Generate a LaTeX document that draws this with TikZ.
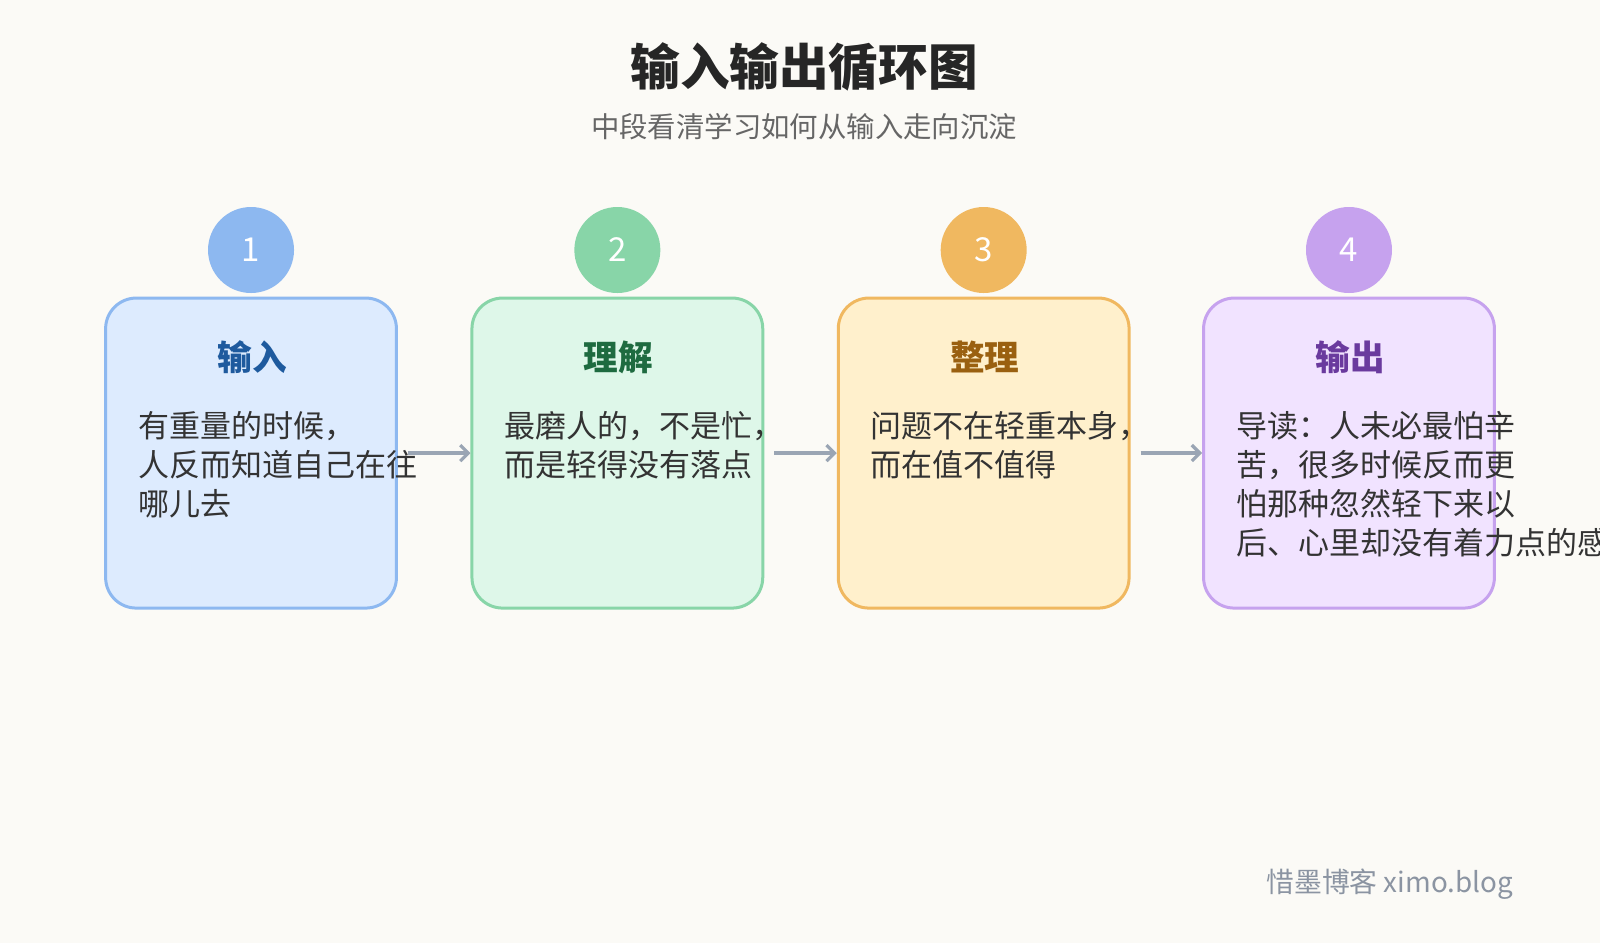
\documentclass[tikz,border=0pt]{standalone}
\usepackage{fontspec}
\setmainfont{Noto Sans CJK SC}
\usetikzlibrary{arrows.meta}
\definecolor{bg}{HTML}{FBFAF6}
\definecolor{fA}{HTML}{DDEBFE}\definecolor{dA}{HTML}{8DB8F0}\definecolor{hA}{HTML}{1E5A9E}
\definecolor{fB}{HTML}{DEF7E9}\definecolor{dB}{HTML}{88D5A8}\definecolor{hB}{HTML}{1E6B40}
\definecolor{fC}{HTML}{FFF0CC}\definecolor{dC}{HTML}{F0B860}\definecolor{hC}{HTML}{9A6010}
\definecolor{fD}{HTML}{F1E3FF}\definecolor{dD}{HTML}{C6A2EE}\definecolor{hD}{HTML}{6A3A9E}
\definecolor{arr}{HTML}{9AA5B4}
\tikzset{x=0.5102pt,y=-0.5102pt,
 card/.style={draw,line width=1.5pt,rounded corners=15.3pt,minimum width=145.4pt,minimum height=155pt,inner sep=0pt},
 num/.style={circle,minimum size=43pt,inner sep=0pt,text=white,font=\fontsize{16.5}{16.5}\selectfont},
 head/.style={font=\fontsize{17.3}{17.3}\selectfont\bfseries},
 body/.style={anchor=north west,align=left,inner sep=0pt,text=black!80,font=\fontsize{15.5}{19.4}\selectfont},
 link/.style={draw=arr,line width=1.6pt,shorten <=5pt,shorten >=0pt,-{Straight Barb[length=4pt,width=8pt]}}}
\begin{document}
\begin{tikzpicture}
\fill[bg] (0,0) rectangle (1568,924);
\useasboundingbox (0,0) rectangle (1568,924);
\node[font=\fontsize{24.8}{24.8}\selectfont\bfseries,text=black!85] (title) at (788,66) {输入输出循环图};
\node[font=\fontsize{14.2}{14.2}\selectfont,text=black!60] (sub) at (788,124) {中段看清学习如何从输入走向沉淀};
\foreach \i/\x/\c/\n/\h/\t in {A/246/A/1/输入/{有重量的时候，\\人反而知道自己在往\\哪儿去},
 B/605/B/2/理解/{最磨人的，不是忙，\\而是轻得没有落点},
 C/964/C/3/整理/{问题不在轻重本身，\\而在值不值得},
 D/1322/D/4/输出/{导读：人未必最怕辛\\苦，很多时候反而更\\怕那种忽然轻下来以\\后、心里却没有着力点的感}}{
 \node[card,draw=d\c,fill=f\c] (box\i) at (\x,444) {};
 \node[num,fill=d\c] (n\i) at (\x,245) {\n};
 \node[head,text=h\c] (h\i) at (\x+1,350) {\h};
 \node[body] (t\i) at (\x-111,403) {\t};
}
\draw[link] (boxA) -- (boxB);
\draw[link] (boxB) -- (boxC);
\draw[link] (boxC) -- (boxD);
\node[font=\fontsize{13.9}{13.9}\selectfont,text=arr!90!black] (foot) at (1362,866) {惜墨博客 ximo.blog};
\end{tikzpicture}
\end{document}
